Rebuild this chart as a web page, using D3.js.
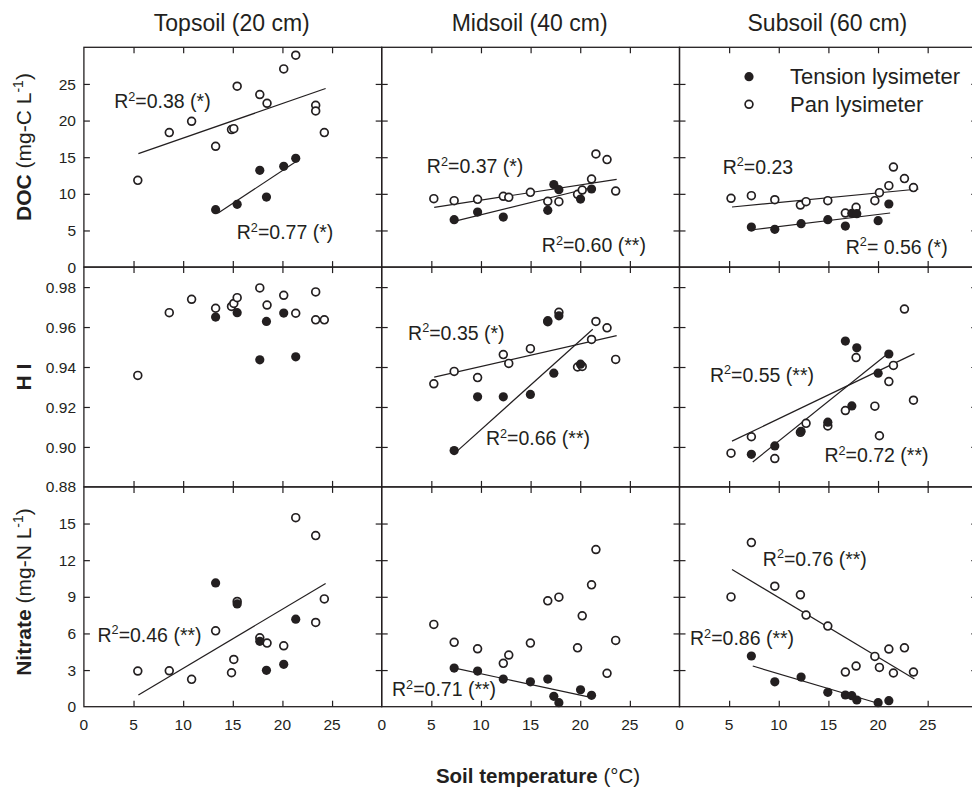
<!DOCTYPE html>
<html>
<head>
<meta charset="utf-8">
<script src="https://cdn.jsdelivr.net/npm/d3@7"></script>
<style>
  body { margin: 0; background: #fff; }
  svg text { font-family: "Liberation Sans", Arial, sans-serif; fill: #231f20; }
</style>
</head>
<body>
<div id="chart"></div>
<script>
// soil temperature of each sample (deg C), per depth
const tempPanTop = [5.43, 8.6, 10.85, 13.27, 14.87, 15.1, 15.44, 17.72, 18.45, 20.13, 21.34, 23.35, 23.35, 24.22]
const tempTenTop = [13.27, 15.44, 17.72, 18.39, 20.13, 21.34]
const tempPanMid = [5.25, 7.3, 9.66, 12.25, 12.8, 14.98, 16.73, 17.85, 19.73, 20.2, 21.14, 21.58, 22.7, 23.57]
const tempTenMid = [7.3, 9.66, 12.25, 14.98, 16.73, 17.34, 17.85, 20.03, 21.14]
const tempPanSub = [5.19, 7.24, 9.6, 12.18, 12.75, 14.94, 16.71, 17.79, 19.68, 20.14, 21.09, 21.55, 22.66, 23.57]
const tempTenSub = [7.24, 9.6, 12.25, 14.94, 16.71, 17.36, 17.86, 20.01, 21.09]

// DOC (mg-C/L)
const docPanTop = [11.84, 18.36, 19.9, 16.49, 18.77, 18.9, 24.69, 23.55, 22.36, 27.05, 28.92, 22.09, 21.31, 18.36]
const docTenTop = [7.84, 8.57, 13.21, 9.56, 13.76, 14.85]
const docPanMid = [9.34, 9.07, 9.25, 9.66, 9.52, 10.2, 8.98, 8.93, 9.93, 10.52, 12.02, 15.44, 14.67, 10.38]
const docTenMid = [6.47, 7.51, 6.83, null, 7.75, 11.26, 10.57, 9.29, 10.66]
const docPanSub = [9.39, 9.75, 9.2, 8.47, 8.93, 9.07, 7.38, 8.16, 9.07, 10.16, 11.12, 13.66, 12.08, 10.85]
const docTenSub = [5.46, 5.15, 5.93, 6.47, 5.6, 7.34, 7.29, 6.34, 8.61]

// HI
const hiPanTop = [0.9358, 0.9672, 0.9739, 0.9694, 0.9703, 0.9718, 0.9747, 0.9796, 0.9710, 0.9759, 0.9669, 0.9776, 0.9636, 0.9636]
const hiTenTop = [0.965, 0.9672, 0.9436, 0.9628, 0.967, 0.9451]
const hiPanMid = [0.9316, 0.9378, 0.9347, 0.9462, 0.9418, 0.9492, 0.9627, 0.9674, 0.9400, 0.9403, 0.9538, 0.9628, 0.9596, 0.9438]
const hiTenMid = [0.8982, 0.9251, 0.9251, 0.9263, 0.9632, 0.9369, 0.9656, 0.9414, null]
const hiPanSub = [0.8969, 0.9051, 0.8942, 0.9073, 0.9118, 0.9105, 0.9182, 0.9447, 0.9204, 0.9056, 0.9327, 0.9408, 0.9690, 0.9234]
const hiTenSub = [0.8963, 0.9005, 0.9078, 0.9124, 0.953, 0.9205, 0.9496, 0.9369, 0.9465]

// Nitrate (mg-N/L)
const no3PanTop = [2.92, 2.94, 2.24, 6.21, 2.78, 3.87, 8.62, 5.64, 5.21, 4.99, 15.48, 14.01, 6.9, 8.83]
const no3TenTop = [10.14, 8.42, 5.35, 2.98, 3.47, 7.17]
const no3PanMid = [6.74, 5.27, 4.74, 3.55, 4.23, 5.21, 8.67, 8.97, 4.82, 7.44, 9.98, 12.87, 2.73, 5.43]
const no3TenMid = [3.16, 2.92, 2.26, 2.04, 2.26, 0.85, 0.33, 1.39, 0.93]
const no3PanSub = [8.99, 13.44, 9.87, 9.16, 7.5, 6.6, 2.84, 3.33, 4.12, 3.22, 4.72, 2.76, 4.82, 2.84]
const no3TenSub = [4.15, 2.04, 2.43, 1.18, 0.96, 0.9, 0.55, 0.33, 0.49]

const fitDocTopPan = [[5.49, 15.49], [24.35, 24.37]]
const fitDocTopTen = [[13.53, 7.38], [21.57, 14.58]]
const fitDocMidPan = [[5.29, 8.16], [23.67, 11.98]]
const fitDocMidTen = [[7.3, 6.24], [21.38, 10.93]]
const fitDocSubPan = [[5.29, 8.2], [24.07, 10.66]]
const fitDocSubTen = [[7.38, 5.1], [21.22, 7.38]]
const fitHiMidPan = [[5.29, 0.9349], [23.67, 0.9557]]
const fitHiMidTen = [[7.37, 0.8969], [21.26, 0.9589]]
const fitHiSubPan = [[5.29, 0.9029], [23.67, 0.9467]]
const fitHiSubTen = [[7.38, 0.8925], [21.22, 0.9476]]
const fitNo3Top = [[5.49, 0.96], [24.35, 10.09]]
const fitNo3MidTen = [[7.37, 3.16], [21.18, 0.74]]
const fitNo3SubPan = [[5.29, 11.23], [23.67, 2.26]]
const fitNo3SubTen = [[7.38, 3.33], [19.98, 0.28]]

// R2 notes: [row, col, x, y, before, after]
const notes = [
  [0, 0, 3.05, 21.68, "R", "=0.38 (*)"],
  [0, 0, 15.4, 3.78, "R", "=0.77 (*)"],
  [0, 1, 4.55, 12.84, "R", "=0.37 (*)"],
  [0, 1, 16.13, 2.0, "R", "=0.60 (**)"],
  [0, 2, 4.35, 12.76, "R", "=0.23"],
  [0, 2, 16.75, 1.83, "R", "= 0.56 (*)"],
  [1, 1, 2.66, 0.9536, "R", "=0.35 (*)"],
  [1, 1, 10.5, 0.9009, "R", "=0.66 (**)"],
  [1, 2, 3.07, 0.9327, "R", "=0.55 (**)"],
  [1, 2, 14.6, 0.8924, "R", "=0.72 (**)"],
  [2, 0, 1.37, 5.31, "R", "=0.46 (**)"],
  [2, 1, 1.04, 0.87, "R", "=0.71 (**)"],
  [2, 2, 8.39, 11.56, "R", "=0.76 (**)"],
  [2, 2, 1.06, 5.04, "R", "=0.86 (**)"]
]

const colTitles = ["Topsoil (20 cm)", "Midsoil (40 cm)", "Subsoil (60 cm)"]
const xTicks = [0, 5, 10, 15, 20, 25]
const yDomains = [[0, 30], [0.88, 0.99], [0, 18]]
const yTicks = [[0, 5, 10, 15, 20, 25], [0.88, 0.90, 0.92, 0.94, 0.96, 0.98], [0, 3, 6, 9, 12, 15]]

const temps = [[tempPanTop, tempTenTop], [tempPanMid, tempTenMid], [tempPanSub, tempTenSub]]
const values = [
  [[docPanTop, docTenTop], [docPanMid, docTenMid], [docPanSub, docTenSub]],
  [[hiPanTop, hiTenTop], [hiPanMid, hiTenMid], [hiPanSub, hiTenSub]],
  [[no3PanTop, no3TenTop], [no3PanMid, no3TenMid], [no3PanSub, no3TenSub]]
]
const fits = [
  [[fitDocTopPan, fitDocTopTen], [fitDocMidPan, fitDocMidTen], [fitDocSubPan, fitDocSubTen]],
  [[], [fitHiMidPan, fitHiMidTen], [fitHiSubPan, fitHiSubTen]],
  [[fitNo3Top], [fitNo3MidTen], [fitNo3SubPan, fitNo3SubTen]]
]

const width = 972, height = 790
const plotLeft = 83.9, plotTop = 47.3, colW = 297.8, rowH = 219.8
const ink = "#231f20"

const svg = d3.select("#chart").append("svg")
  .attr("width", width).attr("height", height)

const x = [0, 1, 2].map(c => d3.scaleLinear().domain([0, 30]).range([plotLeft + c * colW, plotLeft + (c + 1) * colW]))
const y = [0, 1, 2].map(r => d3.scaleLinear().domain(yDomains[r]).range([plotTop + (r + 1) * rowH, plotTop + r * rowH]))

function sup(sel, base, s, rest, size) {
  sel.append("tspan").text(base)
  sel.append("tspan").attr("font-size", size * 0.65).attr("dy", -size * 0.38).text(s)
  sel.append("tspan").attr("dy", size * 0.38).text(rest)
}

for (let r = 0; r < 3; r++) {
  for (let c = 0; c < 3; c++) {
    const g = svg.append("g")
    const xs = x[c], ys = y[r]
    const x0 = xs.range()[0], x1 = xs.range()[1]
    const y0 = ys.range()[1], y1 = ys.range()[0]

    // inward ticks on every side
    const inner = xTicks.slice(1)
    g.append("g").attr("transform", `translate(0,${y1})`)
      .call(d3.axisBottom(xs).tickValues(inner).tickSize(-6).tickFormat(""))
    g.append("g").attr("transform", `translate(0,${y0})`)
      .call(d3.axisTop(xs).tickValues(inner).tickSize(-6).tickFormat(""))
    const yt = yTicks[r].slice(1)
    g.append("g").attr("transform", `translate(${x0},0)`)
      .call(d3.axisLeft(ys).tickValues(yt).tickSize(-6).tickFormat(""))
    g.append("g").attr("transform", `translate(${x1},0)`)
      .call(d3.axisRight(ys).tickValues(yt).tickSize(-6).tickFormat(""))
    g.selectAll(".domain").remove()
    g.selectAll(".tick line").attr("stroke", ink).attr("stroke-width", 1.2)

    g.append("rect").attr("x", x0).attr("y", y0).attr("width", x1 - x0).attr("height", y1 - y0)
      .attr("fill", "none").attr("stroke", ink).attr("stroke-width", 1.3)

    // fit lines
    fits[r][c].forEach(f => {
      g.append("line")
        .attr("x1", xs(f[0][0])).attr("y1", ys(f[0][1]))
        .attr("x2", xs(f[1][0])).attr("y2", ys(f[1][1]))
        .attr("stroke", ink).attr("stroke-width", 1.2)
    })

    // pan (open) then tension (filled)
    const pan = temps[c][0].map((t, i) => [t, values[r][c][0][i]])
    const ten = temps[c][1].map((t, i) => [t, values[r][c][1][i]]).filter(d => d[1] != null)
    g.selectAll(".pan").data(pan).join("circle").attr("class", "pan")
      .attr("cx", d => xs(d[0])).attr("cy", d => ys(d[1])).attr("r", 3.9)
      .attr("fill", "#fff").attr("stroke", ink).attr("stroke-width", 1.7)
    g.selectAll(".ten").data(ten).join("circle").attr("class", "ten")
      .attr("cx", d => xs(d[0])).attr("cy", d => ys(d[1])).attr("r", 4.6)
      .attr("fill", ink)

    // tick labels
    if (r === 2) {
      g.selectAll(".xl").data(xTicks).join("text").attr("class", "xl")
        .attr("x", d => xs(d)).attr("y", 730)
        .attr("text-anchor", "middle").attr("font-size", 15.5).text(d => d)
    }
    if (c === 0) {
      const fmt = r === 1 ? d3.format(".2f") : d3.format("d")
      g.selectAll(".yl").data(yTicks[r]).join("text").attr("class", "yl")
        .attr("x", 76).attr("y", d => ys(d)).attr("dy", "0.36em")
        .attr("text-anchor", "end").attr("font-size", 15.5).text(d => fmt(d))
    }
  }
}

// R2 notes
notes.forEach(n => {
  const t = svg.append("text")
    .attr("x", x[n[1]](n[2])).attr("y", y[n[0]](n[3]))
    .attr("font-size", 19.5)
  sup(t, n[4], "2", n[5], 19.5)
})

// column titles
svg.selectAll(".ct").data(colTitles).join("text").attr("class", "ct")
  .attr("x", (d, i) => (x[i].range()[0] + x[i].range()[1]) / 2 - 1)
  .attr("y", 31).attr("text-anchor", "middle").attr("font-size", 23)
  .text(d => d)

// legend
const leg = svg.append("g")
leg.append("circle").attr("cx", 749).attr("cy", 76.7).attr("r", 4.6).attr("fill", ink)
leg.append("circle").attr("cx", 749).attr("cy", 104.3).attr("r", 3.9)
  .attr("fill", "#fff").attr("stroke", ink).attr("stroke-width", 1.7)
leg.append("text").attr("x", 790).attr("y", 84).attr("font-size", 22).text("Tension lysimeter")
leg.append("text").attr("x", 790).attr("y", 111.5).attr("font-size", 22).text("Pan lysimeter")

// y-axis titles
function yTitle(cy, bold, rest, s, end) {
  const t = svg.append("text")
    .attr("transform", `translate(31,${cy}) rotate(-90)`)
    .attr("text-anchor", "middle").attr("font-size", 21)
  t.append("tspan").attr("font-weight", "bold").text(bold)
  if (rest) {
    t.append("tspan").text(rest)
    t.append("tspan").attr("font-size", 14).attr("dy", -8).text(s)
    t.append("tspan").attr("dy", 8).text(end)
  }
}
yTitle(147, "DOC", " (mg-C L", "-1", ")")
yTitle(377, "H I")
yTitle(592, "Nitrate", " (mg-N L", "-1", ")")

// x-axis title
const xt = svg.append("text").attr("x", 538).attr("y", 783)
  .attr("text-anchor", "middle").attr("font-size", 20.5)
xt.append("tspan").attr("font-weight", "bold").text("Soil temperature")
xt.append("tspan").text(" (°C)")
</script>
</body>
</html>
